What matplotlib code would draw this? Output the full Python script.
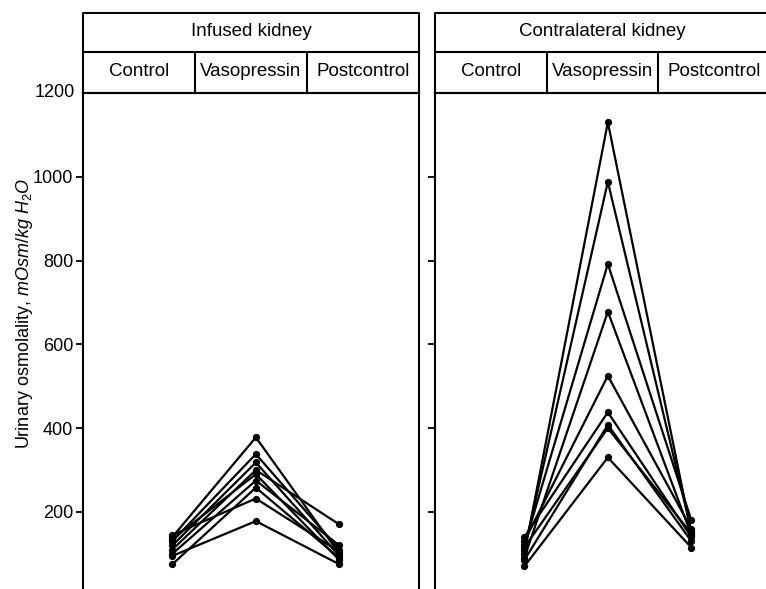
import matplotlib
matplotlib.use("Agg")
import matplotlib.pyplot as plt

plt.rcParams['font.family'] = ['Liberation Sans', 'DejaVu Sans']
plt.rcParams['mathtext.fontset'] = 'custom'
plt.rcParams['mathtext.rm'] = 'Liberation Sans'
plt.rcParams['mathtext.it'] = 'Liberation Sans:italic'

phases = ['Control', 'Vasopressin', 'Postcontrol']
panel_titles = ['Infused kidney', 'Contralateral kidney']
yticks = [200, 400, 600, 800, 1000, 1200]

# urinary osmolality per animal: control, vasopressin, postcontrol
infused = [
    [140, 378, 100],
    [130, 338, 110],
    [120, 318, 95],
    [110, 300, 170],
    [135, 290, 85],
    [100, 275, 120],
    [75, 258, 90],
    [145, 232, 105],
    [95, 178, 75],
]
contralateral = [
    [100, 1130, 150],
    [110, 988, 155],
    [120, 792, 180],
    [90, 678, 145],
    [130, 525, 160],
    [140, 438, 140],
    [85, 408, 130],
    [115, 400, 148],
    [70, 330, 115],
]

W, H = 766, 589
fig = plt.figure(figsize=(W / 100, H / 100), dpi=100)

def fx(px):
    return px / W

def fy(px):
    return 1 - px / H

panels = [(83, 419, infused), (435, 770, contralateral)]
xpos = [0, 1, 2]

for i, (x0, x1, data) in enumerate(panels):
    # main plotting area
    ax = fig.add_axes([fx(x0), 0, fx(x1 - x0), fy(93)])
    for row in data:
        ax.plot(xpos, row, color='black', lw=1.6, marker='o', ms=4.2,
                solid_joinstyle='miter')
    ax.set_ylim(16, 1200)
    ax.set_xlim(-1.07, -1.07 + (x1 - x0) / 83.5)
    ax.set_xticks([])
    ax.set_yticks(yticks[:-1])
    ax.spines['bottom'].set_visible(False)
    for s in ['left', 'right', 'top']:
        ax.spines[s].set_linewidth(1.5)
    ax.tick_params(axis='y', direction='out', length=5, width=1.3,
                   labelsize=13, pad=2)
    if i == 0:
        ax.text(-0.025, 1200, '1200', transform=ax.get_yaxis_transform(),
                ha='right', va='center', fontsize=13)
    else:
        ax.tick_params(axis='y', labelleft=False)

    # header table: title row and phase row
    hx = fig.add_axes([fx(x0), fy(93), fx(x1 - x0), fy(13) - fy(93)])
    hx.set_xlim(0, 3)
    hx.set_ylim(0, 2)
    hx.axis('off')
    hx.plot([0, 3, 3, 0, 0], [0, 0, 2, 2, 0], color='black', lw=1.5,
            clip_on=False)
    hx.plot([0, 3], [1.03, 1.03], color='black', lw=1.5, clip_on=False)
    for d in [1, 2]:
        hx.plot([d, d], [0, 1.03], color='black', lw=1.5, clip_on=False)
    hx.text(1.5, 1.58, panel_titles[i], ha='center', va='center_baseline',
            fontsize=13.5)
    for k, name in enumerate(phases):
        hx.text(k + 0.5, 0.58, name, ha='center', va='center_baseline',
                fontsize=13.5)

fig.text(fx(25), fy(313), r'Urinary osmolality, $\mathit{mOsm/kg\ H_2O}$',
         rotation=90, ha='center', va='center', fontsize=13)

fig.savefig('out.png', dpi=100)
